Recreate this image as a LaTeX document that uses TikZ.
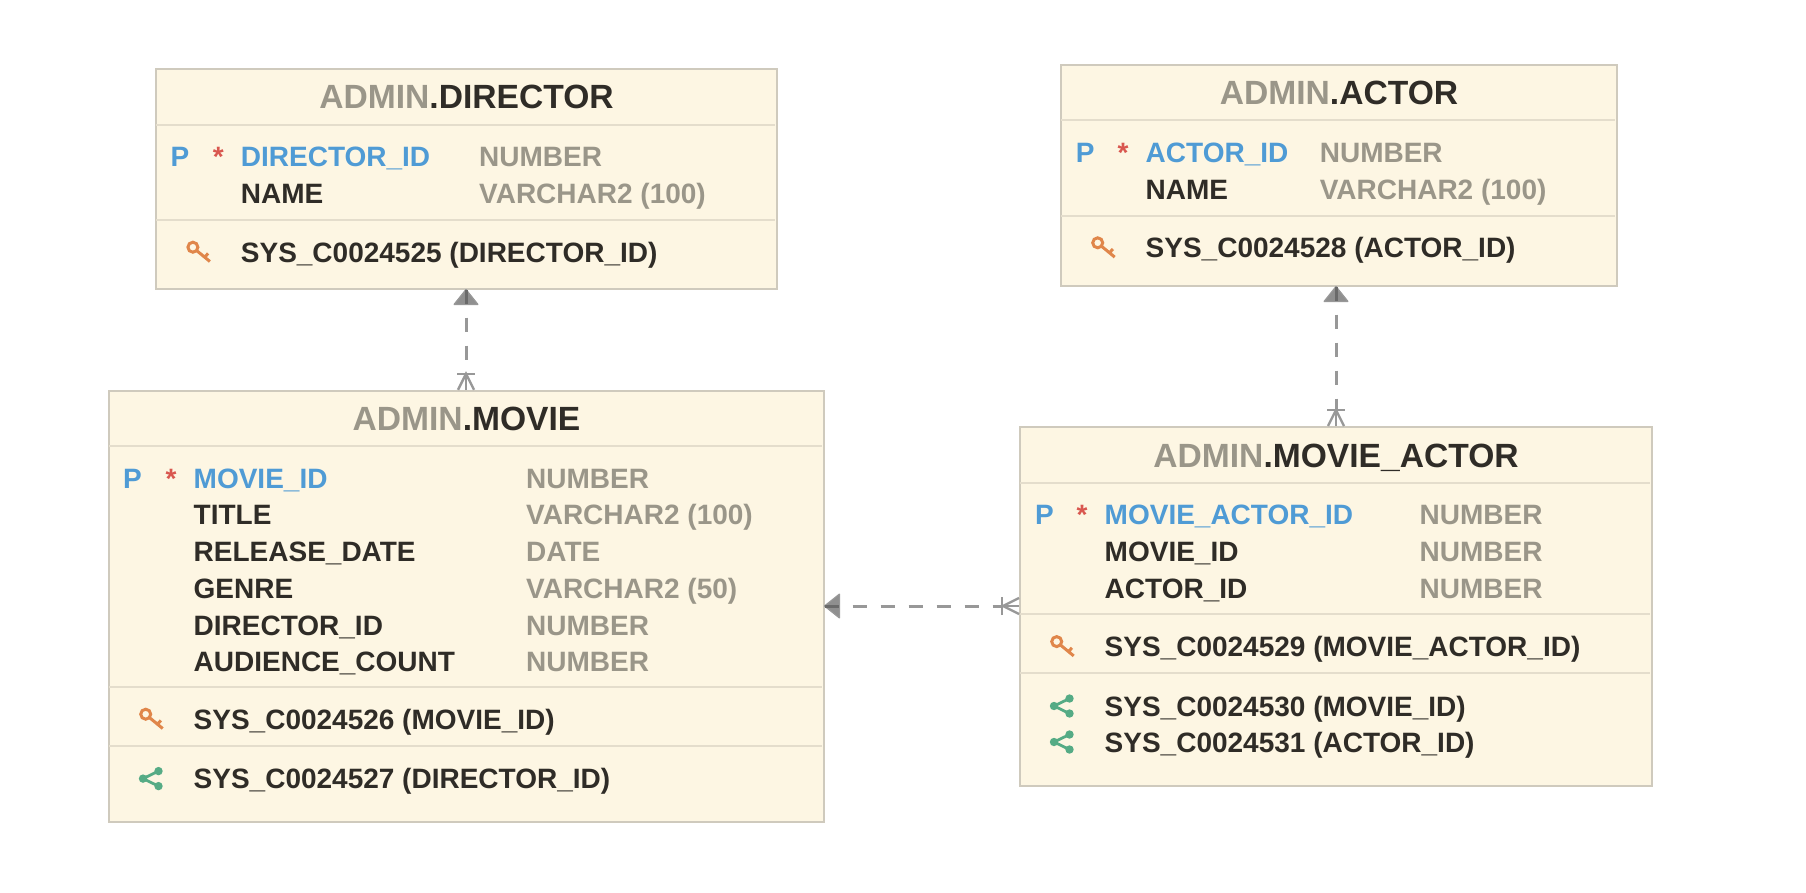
\documentclass[tikz,border=0pt]{standalone}
\usepackage{fontspec}
\usetikzlibrary{calc}
\setmainfont{Liberation Sans}[BoldFont={Liberation Sans Bold}]
\definecolor{boxfill}{HTML}{FDF6E3}
\definecolor{boxedge}{HTML}{CFCABD}
\definecolor{boxsep}{HTML}{E4DDCC}
\definecolor{txtdark}{HTML}{2F2C27}
\definecolor{txtgrey}{HTML}{9A9689}
\definecolor{txtblue}{HTML}{4F9BD5}
\definecolor{txtred}{HTML}{D9574F}
\definecolor{keyorange}{HTML}{E0864A}
\definecolor{sharegreen}{HTML}{55AB85}
\definecolor{fkgrey}{HTML}{989898}
\definecolor{fkdark}{HTML}{6A6A6A}
\newcount\txtno
\tikzset{
  tablebox/.style={draw=boxedge,line width=2pt,fill=boxfill,rectangle,inner sep=0pt,anchor=north west},
  sepline/.style={draw=boxsep,line width=2.2pt},
  rowtext/.style={anchor=base west,inner sep=0pt,font=\fontsize{28}{30}\selectfont\bfseries},
  titletext/.style={anchor=base,inner sep=0pt,font=\fontsize{33.6}{36}\selectfont\bfseries,text=txtdark},
  fkline/.style={draw=fkgrey,line width=3pt,dash pattern=on 14pt off 14pt},
  fktip/.style={draw=fkgrey,fill=fkdark!75!white,line width=1.2pt,line join=bevel},
  fkcenter/.style={draw=fkdark,line width=3pt},
  crow/.style={draw=fkgrey,line width=2.4pt},
  keyicon/.style={draw=keyorange,line width=3pt,fill=none},
  shareicon/.style={draw=sharegreen,line width=2.8pt,fill=none},
}
% \rtext{colour}{x}{baseline}{text}
\newcommand{\rtext}[4]{\global\advance\txtno by 1\relax
  \node[rowtext,text=#1] (t\the\txtno) at (#2,#3) {#4};}
% \colrow{name x}{type x}{baseline}{name}{type}
\newcommand{\colrow}[5]{\rtext{txtdark}{#1}{#3}{#4}\rtext{txtgrey}{#2}{#3}{#5}}
% \pkrow{P x}{name x}{type x}{baseline}{name}{type}
\newcommand{\pkrow}[6]{\rtext{txtblue}{#1}{#4}{P}\rtext{txtred}{#2-28}{#4}{*}%
  \rtext{txtblue}{#2}{#4}{#5}\rtext{txtgrey}{#3}{#4}{#6}}
\newcommand{\keyrow}[3]{%
  \begin{scope}[shift={(#1,#2)}]
    \draw[keyicon] (-47.8,-14.8) circle (5);
    \draw[keyicon] (-44,-11.4) -- (-30.8,-0.5) (-36,-4.8) -- (-32.6,-8.6);
  \end{scope}
  \rtext{txtdark}{#1}{#2}{#3}}
\newcommand{\sharerow}[3]{%
  \begin{scope}[shift={(#1,#2)}]
    \draw[shareicon] (-35,-17.5) -- (-50.5,-10) -- (-35,-2.5);
    \fill[sharegreen] (-35,-17.5) circle (4.2) (-50.5,-10) circle (4.2) (-35,-2.5) circle (4.2);
  \end{scope}
  \rtext{txtdark}{#1}{#2}{#3}}
\begin{document}
\begin{tikzpicture}[x=1pt,y=-1pt]
\useasboundingbox (0,0) rectangle (1806,892);
\fill[white] (0,0) rectangle (1806,892);
% tables
\node[tablebox,minimum width=620.5pt,minimum height=220pt] (director) at (155,67.5) {};
\node[tablebox,minimum width=555.5pt,minimum height=221pt] (actor) at (1060,63.5) {};
\node[tablebox,minimum width=714.5pt,minimum height=431pt] (movie) at (108,389.8) {};
\node[tablebox,minimum width=631.5pt,minimum height=358.5pt] (movieactor) at (1019,426) {};
% separators
\draw[sepline] (156,125) -- (774.5,125) (156,220) -- (774.5,220);
\draw[sepline] (1061,120) -- (1614.5,120) (1061,216) -- (1614.5,216);
\draw[sepline] (109,446) -- (821.5,446) (109,687) -- (821.5,687) (109,746) -- (821.5,746);
\draw[sepline] (1020,483) -- (1649.5,483) (1020,614) -- (1649.5,614) (1020,673) -- (1649.5,673);
% titles
\node[titletext] (ttldirector) at (466.5,108.5) {\textcolor{txtgrey}{ADMIN}.DIRECTOR};
\node[titletext] (ttlactor) at (1339,104.5) {\textcolor{txtgrey}{ADMIN}.ACTOR};
\node[titletext] (ttlmovie) at (466.5,430.4) {\textcolor{txtgrey}{ADMIN}.MOVIE};
\node[titletext] (ttlmovieactor) at (1336,467.3) {\textcolor{txtgrey}{ADMIN}.MOVIE\_ACTOR};
% director
\pkrow{170.5}{240.7}{479}{166.7}{DIRECTOR\_ID}{NUMBER}
\colrow{240.7}{479}{203}{NAME}{VARCHAR2 (100)}
\keyrow{240.7}{262}{SYS\_C0024525 (DIRECTOR\_ID)}
% actor
\pkrow{1075.7}{1145.5}{1319.6}{162.6}{ACTOR\_ID}{NUMBER}
\colrow{1145.5}{1319.6}{199}{NAME}{VARCHAR2 (100)}
\keyrow{1145.5}{257.6}{SYS\_C0024528 (ACTOR\_ID)}
% movie
\pkrow{123}{193.5}{526}{488.4}{MOVIE\_ID}{NUMBER}
\colrow{193.5}{526}{524.6}{TITLE}{VARCHAR2 (100)}
\colrow{193.5}{526}{561.6}{RELEASE\_DATE}{DATE}
\colrow{193.5}{526}{598}{GENRE}{VARCHAR2 (50)}
\colrow{193.5}{526}{635}{DIRECTOR\_ID}{NUMBER}
\colrow{193.5}{526}{671}{AUDIENCE\_COUNT}{NUMBER}
\keyrow{193.5}{729}{SYS\_C0024526 (MOVIE\_ID)}
\sharerow{193.5}{788.6}{SYS\_C0024527 (DIRECTOR\_ID)}
% movie_actor
\pkrow{1035}{1104.5}{1419.5}{524.6}{MOVIE\_ACTOR\_ID}{NUMBER}
\colrow{1104.5}{1419.5}{561.6}{MOVIE\_ID}{NUMBER}
\colrow{1104.5}{1419.5}{598}{ACTOR\_ID}{NUMBER}
\keyrow{1104.5}{656.4}{SYS\_C0024529 (MOVIE\_ACTOR\_ID)}
\sharerow{1104.5}{716}{SYS\_C0024530 (MOVIE\_ID)}
\sharerow{1104.5}{752}{SYS\_C0024531 (ACTOR\_ID)}
% connectors: anchors on the table edges
\coordinate (fk1) at (466,0);
\coordinate (fk2) at (1336,0);
\coordinate (fk3) at (0,606);
% movie -> director
\draw[fkline,dash phase=14pt] ($(director.south -| fk1)+(0,-14pt)$) -- ($(movie.north -| fk1)+(0,16pt)$);
\draw[fktip] (director.south -| fk1) -- +(12pt,-15pt) -- +(-12pt,-15pt) -- cycle;
\draw[fkcenter] (director.south -| fk1) -- +(0,-14pt);
\draw[crow] ($(movie.north -| fk1)+(-9pt,16pt)$) -- ++(18pt,0pt);
\draw[crow] (movie.north -| fk1) ++(-8pt,0) -- ++(8pt,16pt) -- ++(8pt,-16pt);
\draw[crow] (movie.north -| fk1) -- +(0,16pt);
% movie_actor -> actor
\draw[fkline,dash phase=14pt] ($(actor.south -| fk2)+(0,-14pt)$) -- ($(movieactor.north -| fk2)+(0,16pt)$);
\draw[fktip] (actor.south -| fk2) -- +(12pt,-15pt) -- +(-12pt,-15pt) -- cycle;
\draw[fkcenter] (actor.south -| fk2) -- +(0,-14pt);
\draw[crow] ($(movieactor.north -| fk2)+(-9pt,16pt)$) -- ++(18pt,0pt);
\draw[crow] (movieactor.north -| fk2) ++(-8pt,0) -- ++(8pt,16pt) -- ++(8pt,-16pt);
\draw[crow] (movieactor.north -| fk2) -- +(0,16pt);
% movie_actor -> movie
\draw[fkline,dash phase=14pt] ($(movie.east |- fk3)+(14pt,0)$) -- ($(movieactor.west |- fk3)+(-17pt,0)$);
\draw[fktip] (movie.east |- fk3) -- +(15pt,12pt) -- +(15pt,-12pt) -- cycle;
\draw[fkcenter] (movie.east |- fk3) -- +(14pt,0);
\draw[crow] ($(movieactor.west |- fk3)+(-17pt,-9pt)$) -- ++(0,18pt);
\draw[crow] (movieactor.west |- fk3) ++(0,-8pt) -- ++(-16pt,8pt) -- ++(16pt,8pt);
\draw[crow] (movieactor.west |- fk3) -- +(-17pt,0);
\end{tikzpicture}
\end{document}
